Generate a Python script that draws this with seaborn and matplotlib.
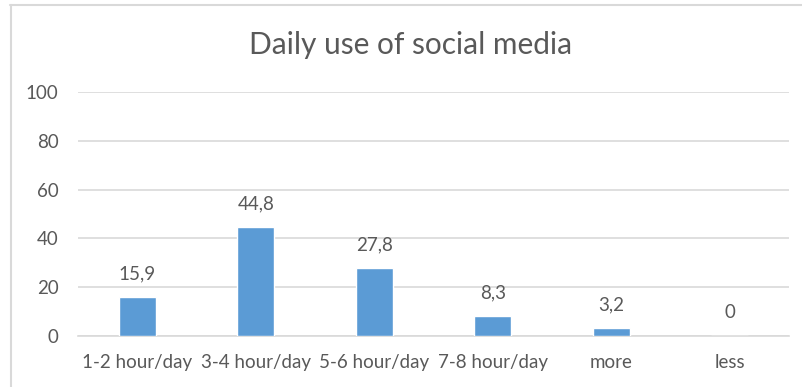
import matplotlib
matplotlib.use("Agg")
import matplotlib.pyplot as plt
from matplotlib.lines import Line2D
import seaborn as sns
import pandas as pd

categories = ["1-2 hour/day", "3-4 hour/day", "5-6 hour/day", "7-8 hour/day", "more", "less"]
values = [15.9, 44.8, 27.8, 8.3, 3.2, 0]
y_ticks = [0, 20, 40, 60, 80, 100]
title = "Daily use of social media"

sns.set_theme(style="white")
plt.rcParams["font.family"] = ["Lato", "DejaVu Sans"]

text_color = "#595959"
grid_color = "#D9D9D9"
bar_color = "#5B9BD5"
label_size = 13.5

df = pd.DataFrame({"category": categories, "value": values})

fig = plt.figure(figsize=(8.02, 3.87), dpi=100)
ax = fig.add_axes([78 / 802, 1 - 336 / 387, (789 - 78) / 802, (336 - 92) / 387])

sns.barplot(data=df, x="category", y="value", color=bar_color, width=0.31,
            saturation=1, ax=ax, zorder=3)

ax.set_ylim(0, 100)
ax.set_yticks(y_ticks)
ax.set_xlim(-0.5, len(categories) - 0.5)
ax.yaxis.grid(True, color=grid_color, linewidth=1.2, zorder=0)
ax.set_axisbelow(True)
for side in ["top", "right", "left"]:
    ax.spines[side].set_visible(False)
ax.spines["bottom"].set_color(grid_color)
ax.spines["bottom"].set_linewidth(1.2)
ax.tick_params(axis="both", length=0, labelsize=label_size, labelcolor=text_color)
ax.tick_params(axis="y", pad=14)
ax.tick_params(axis="x", pad=13)
ax.set_xlabel("")
ax.set_ylabel("")

for i, v in enumerate(values):
    label = f"{v:g}".replace(".", ",")
    ax.annotate(label, (i, v), xytext=(0, 10.5), textcoords="offset points",
                ha="center", va="bottom", fontsize=label_size, color=text_color)

fig.text(411 / 802, 1 - 45 / 387, title, ha="center", va="center",
         fontsize=21.5, color=text_color)

# chart frame: top and left edges
fig.add_artist(Line2D([10 / 802, 1], [1 - 5 / 387, 1 - 5 / 387],
                      transform=fig.transFigure, color=grid_color, linewidth=1.5))
fig.add_artist(Line2D([10.5 / 802, 10.5 / 802], [0, 1 - 5 / 387],
                      transform=fig.transFigure, color=grid_color, linewidth=1.5))

fig.savefig("out.png", dpi=100)
